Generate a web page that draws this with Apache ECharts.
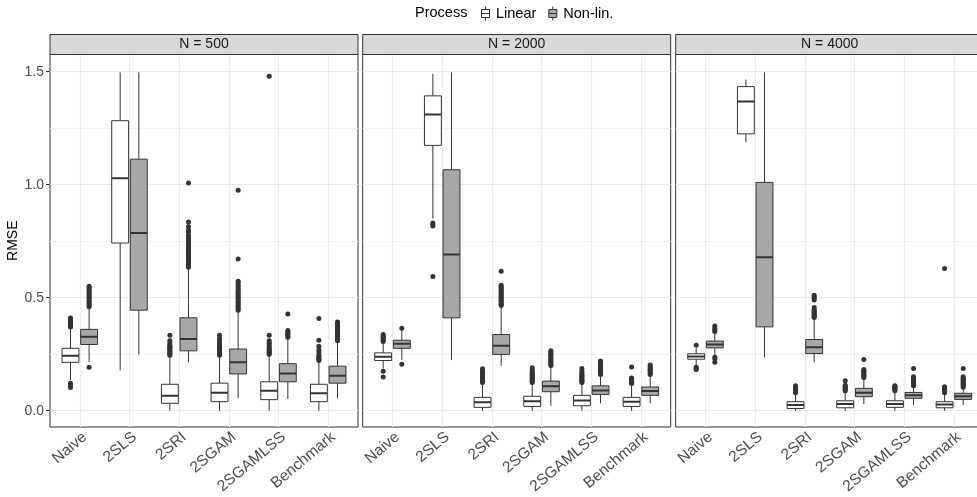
<!DOCTYPE html>
<html><head><meta charset="utf-8">
<script src="https://cdn.jsdelivr.net/npm/echarts@6/dist/echarts.min.js"></script>
<style>html,body{margin:0;padding:0;background:#fff}#c{width:977px;height:497px}</style>
</head><body><div id="c"></div>
<script>
// ---------------- data ----------------
const categories = ['Naive', '2SLS', '2SRI', '2SGAM', '2SGAMLSS', 'Benchmark'];
const panels = ['N = 500', 'N = 2000', 'N = 4000'];
const processes = ['Linear', 'Non-lin.'];
const yTicks = [0, 0.5, 1.0, 1.5];
const yMinorGrid = [0.25, 0.75, 1.25];

// box stats per category: [lower whisker, Q1, median, Q3, upper whisker]
const linear500Stats = [
  [0.136, 0.214, 0.243, 0.276, 0.365],
  [0.178, 0.742, 1.029, 1.283, 1.497],
  [0.0, 0.033, 0.066, 0.117, 0.239],
  [0.0, 0.040, 0.080, 0.122, 0.239],
  [0.0, 0.049, 0.088, 0.128, 0.245],
  [0.0, 0.040, 0.077, 0.117, 0.216]
];
const nonlin500Stats = [
  [0.216, 0.293, 0.327, 0.360, 0.452],
  [0.249, 0.445, 0.786, 1.113, 1.497],
  [0.214, 0.265, 0.317, 0.411, 0.629],
  [0.055, 0.163, 0.215, 0.273, 0.437],
  [0.052, 0.128, 0.165, 0.208, 0.320],
  [0.055, 0.122, 0.155, 0.197, 0.305]
];
const linear2000Stats = [
  [0.187, 0.222, 0.239, 0.256, 0.302],
  [0.850, 1.174, 1.310, 1.393, 1.490],
  [0.0, 0.015, 0.037, 0.059, 0.121],
  [0.0, 0.019, 0.042, 0.064, 0.121],
  [0.0, 0.022, 0.045, 0.068, 0.121],
  [0.0, 0.019, 0.040, 0.059, 0.114]
];
const nonlin2000Stats = [
  [0.224, 0.276, 0.296, 0.312, 0.364],
  [0.224, 0.411, 0.691, 1.066, 1.497],
  [0.199, 0.249, 0.287, 0.337, 0.459],
  [0.022, 0.084, 0.108, 0.131, 0.194],
  [0.033, 0.072, 0.090, 0.110, 0.155],
  [0.033, 0.068, 0.087, 0.105, 0.155]
];
const linear4000Stats = [
  [0.202, 0.228, 0.240, 0.252, 0.276],
  [1.188, 1.225, 1.368, 1.434, 1.465],
  [0.0, 0.010, 0.025, 0.040, 0.077],
  [0.0, 0.013, 0.030, 0.044, 0.084],
  [0.0, 0.015, 0.030, 0.044, 0.084],
  [0.0, 0.013, 0.028, 0.040, 0.077]
];
const nonlin4000Stats = [
  [0.246, 0.278, 0.293, 0.308, 0.342],
  [0.236, 0.371, 0.679, 1.010, 1.497],
  [0.214, 0.253, 0.281, 0.315, 0.408],
  [0.030, 0.062, 0.080, 0.099, 0.143],
  [0.025, 0.055, 0.068, 0.081, 0.106],
  [0.025, 0.050, 0.064, 0.077, 0.099]
];

// outliers per category
const linear500Out = [
  [0.370, 0.374, 0.378, 0.382, 0.386, 0.390, 0.395, 0.400, 0.405, 0.410, 0.122, 0.112, 0.103],
  [],
  [0.245, 0.250, 0.255, 0.260, 0.265, 0.270, 0.275, 0.280, 0.285, 0.290, 0.300, 0.310, 0.334],
  [0.245, 0.250, 0.255, 0.260, 0.265, 0.270, 0.275, 0.280, 0.285, 0.290, 0.300, 0.310, 0.320, 0.334],
  [0.250, 0.255, 0.260, 0.265, 0.270, 0.275, 0.285, 0.295, 0.300, 0.310, 0.334, 1.480],
  [0.222, 0.228, 0.234, 0.240, 0.246, 0.260, 0.270, 0.285, 0.312, 0.408]
];
const nonlin500Out = [
  [0.460, 0.467, 0.474, 0.481, 0.488, 0.495, 0.502, 0.509, 0.516, 0.523, 0.530, 0.537, 0.544, 0.551, 0.192],
  [],
  [0.635, 0.642, 0.649, 0.656, 0.663, 0.670, 0.677, 0.684, 0.691, 0.698, 0.705, 0.712, 0.719, 0.726, 0.733, 0.740, 0.748, 0.756, 0.765, 0.775, 0.790, 0.800, 0.815, 0.835, 1.007],
  [0.445, 0.452, 0.459, 0.466, 0.473, 0.480, 0.487, 0.494, 0.501, 0.508, 0.515, 0.522, 0.529, 0.536, 0.545, 0.555, 0.565, 0.573, 0.671, 0.975],
  [0.325, 0.331, 0.337, 0.343, 0.349, 0.355, 0.428],
  [0.310, 0.316, 0.322, 0.328, 0.334, 0.340, 0.346, 0.352, 0.358, 0.364, 0.370, 0.376, 0.382, 0.388, 0.393]
];
const linear2000Out = [
  [0.306, 0.312, 0.318, 0.324, 0.330, 0.337, 0.175, 0.149],
  [0.830, 0.822, 0.817, 0.594],
  [0.125, 0.130, 0.135, 0.140, 0.145, 0.150, 0.155, 0.160, 0.165, 0.170, 0.175, 0.180, 0.186],
  [0.125, 0.130, 0.135, 0.140, 0.145, 0.150, 0.155, 0.160, 0.166, 0.172, 0.180, 0.190],
  [0.125, 0.130, 0.135, 0.140, 0.145, 0.150, 0.155, 0.160, 0.168, 0.176, 0.187],
  [0.120, 0.125, 0.130, 0.135, 0.140, 0.145, 0.194]
];
const nonlin2000Out = [
  [0.365, 0.206],
  [],
  [0.465, 0.471, 0.477, 0.483, 0.489, 0.495, 0.501, 0.507, 0.513, 0.519, 0.525, 0.531, 0.537, 0.543, 0.549, 0.555, 0.617],
  [0.200, 0.206, 0.212, 0.218, 0.224, 0.230, 0.236, 0.242, 0.248, 0.254, 0.260, 0.265],
  [0.160, 0.166, 0.172, 0.178, 0.184, 0.190, 0.196, 0.202, 0.208, 0.214, 0.220],
  [0.160, 0.166, 0.172, 0.178, 0.184, 0.190, 0.196, 0.202]
];
const linear4000Out = [
  [0.290, 0.192, 0.186, 0.182],
  [],
  [0.080, 0.085, 0.090, 0.095, 0.100, 0.105, 0.110],
  [0.088, 0.093, 0.098, 0.103, 0.108, 0.113, 0.133],
  [0.088, 0.093, 0.098, 0.103, 0.108, 0.110],
  [0.080, 0.085, 0.090, 0.095, 0.100, 0.106, 0.629]
];
const nonlin4000Out = [
  [0.350, 0.357, 0.365, 0.375, 0.237, 0.230, 0.215],
  [],
  [0.412, 0.417, 0.422, 0.427, 0.432, 0.437, 0.442, 0.447, 0.457, 0.490, 0.497, 0.504, 0.511],
  [0.147, 0.152, 0.157, 0.162, 0.167, 0.172, 0.177, 0.182, 0.227],
  [0.110, 0.115, 0.120, 0.125, 0.130, 0.135, 0.140, 0.145, 0.150, 0.187],
  [0.104, 0.109, 0.114, 0.119, 0.124, 0.129, 0.134, 0.139, 0.144, 0.150, 0.187]
];

// ---------------- layout / style ----------------
const statsByPanel = [[linear500Stats, nonlin500Stats], [linear2000Stats, nonlin2000Stats], [linear4000Stats, nonlin4000Stats]];
const outByPanel = [[linear500Out, nonlin500Out], [linear2000Out, nonlin2000Out], [linear4000Out, nonlin4000Out]];

const FONT = '"Liberation Sans", Arial, Helvetica, sans-serif';
const PANEL_LEFT = [50, 362.7, 675.7];
const PANEL_W = 308;
const PLOT_TOP = 54.5;
const PLOT_H = 372.5;
const STRIP_H = 20;
const Y_MIN = -0.072, Y_MAX = 1.576;
const X_MIN = 0.4, X_MAX = 6.6;
const DODGE = [-0.1875, 0.1875];
const BOX_W = 0.34;
const FILLS = ['#FFFFFF', '#A8A8A8'];
const INK = '#333333';
const GRID_COLOR = '#EBEBEB';
const xTickVals = categories.map((c, k) => k + 1);

const ICON = 'path://M5,0L5,3M1,3L9,3L9,11L1,11ZM1,7L9,7M5,11L5,14';

function makeRenderItem(fill) {
  return function (params, api) {
    const x = api.value(0);
    const lo = api.coord([x, api.value(1)]);
    const q1 = api.coord([x, api.value(2)]);
    const md = api.coord([x, api.value(3)]);
    const q3 = api.coord([x, api.value(4)]);
    const hi = api.coord([x, api.value(5)]);
    const w = api.size([BOX_W, 0])[0];
    return {
      type: 'group',
      children: [
        {type: 'line', shape: {x1: lo[0], y1: lo[1], x2: q1[0], y2: q1[1]}, style: {stroke: INK, lineWidth: 1}},
        {type: 'line', shape: {x1: q3[0], y1: q3[1], x2: hi[0], y2: hi[1]}, style: {stroke: INK, lineWidth: 1}},
        {type: 'rect', shape: {x: q1[0] - w / 2, y: q3[1], width: w, height: q1[1] - q3[1]}, style: {fill: fill, stroke: INK, lineWidth: 1}},
        {type: 'line', shape: {x1: md[0] - w / 2, y1: md[1], x2: md[0] + w / 2, y2: md[1]}, style: {stroke: INK, lineWidth: 2}}
      ]
    };
  };
}

const grid = [], xAxis = [], yAxis = [], series = [], graphic = [];
panels.forEach((p, i) => {
  grid.push({left: PANEL_LEFT[i], top: PLOT_TOP, width: PANEL_W, height: PLOT_H, show: true,
    backgroundColor: '#FFFFFF', borderColor: INK, borderWidth: 1, containLabel: false, outerBoundsMode: 'none'});
  xAxis.push({type: 'value', gridIndex: i, min: X_MIN, max: X_MAX,
    axisLine: {show: false},
    axisTick: {show: true, customValues: xTickVals, length: 4, lineStyle: {color: INK}},
    axisLabel: {show: true, customValues: xTickVals, formatter: v => categories[Math.round(v) - 1] || '',
      rotate: 40, margin: 2, verticalAlign: 'top', fontSize: 15.5, color: '#4D4D4D', fontFamily: FONT},
    splitLine: {show: false}});
  yAxis.push({type: 'value', gridIndex: i, min: Y_MIN, max: Y_MAX,
    axisLine: {show: false},
    axisTick: {show: i === 0, customValues: yTicks, length: 4, lineStyle: {color: INK}},
    axisLabel: {show: i === 0, customValues: yTicks, formatter: v => v.toFixed(1), margin: 6,
      fontSize: 14, color: '#4D4D4D', fontFamily: FONT},
    splitLine: {show: false},
    name: i === 0 ? 'RMSE' : '', nameLocation: 'middle', nameGap: 18, nameRotate: 90,
    nameTextStyle: {fontSize: 14, color: '#000', fontFamily: FONT}});

  processes.forEach((proc, j) => {
    const stats = statsByPanel[i][j];
    series.push({
      type: 'custom', name: proc, xAxisIndex: i, yAxisIndex: i, z: 3, clip: true,
      itemStyle: {color: FILLS[j], borderColor: INK},
      encode: {x: 0, y: [1, 2, 3, 4, 5]},
      data: stats.map((s, k) => [k + 1 + DODGE[j]].concat(s)),
      renderItem: makeRenderItem(FILLS[j]),
      silent: true
    });
    const pts = [];
    outByPanel[i][j].forEach((list, k) => list.forEach(v => pts.push([k + 1 + DODGE[j], v])));
    const sc = {
      type: 'scatter', name: proc + ' outliers', xAxisIndex: i, yAxisIndex: i, z: 4,
      data: pts, symbol: 'circle', symbolSize: 5, itemStyle: {color: INK, opacity: 1}, silent: true
    };
    if (j === 0) {
      const ml = [];
      yTicks.forEach(v => ml.push({yAxis: v, lineStyle: {color: GRID_COLOR, width: 1.1}}));
      yMinorGrid.forEach(v => ml.push({yAxis: v, lineStyle: {color: '#F3F3F3', width: 1}}));
      xTickVals.forEach(v => ml.push({xAxis: v, lineStyle: {color: GRID_COLOR, width: 1.1}}));
      sc.markLine = {silent: true, z: 1, symbol: ['none', 'none'], label: {show: false},
        lineStyle: {type: 'solid'}, emphasis: {disabled: true}, animation: false, data: ml};
    }
    series.push(sc);
  });

  graphic.push({type: 'rect', shape: {x: PANEL_LEFT[i], y: PLOT_TOP - STRIP_H, width: PANEL_W, height: STRIP_H},
    style: {fill: '#D9D9D9', stroke: INK, lineWidth: 1}, z: 10});
  graphic.push({type: 'text', x: PANEL_LEFT[i] + PANEL_W / 2, y: PLOT_TOP - STRIP_H / 2,
    style: {text: p, align: 'center', verticalAlign: 'middle', font: '14px ' + FONT, fill: '#1A1A1A'}, z: 11});
});

const option = {
  animation: false,
  backgroundColor: '#FFFFFF',
  title: {text: 'Process', left: 415, top: 5, padding: 0,
    textStyle: {fontSize: 14.5, fontWeight: 'normal', color: '#000', fontFamily: FONT}},
  legend: {left: 481, top: 6, padding: 0, itemWidth: 11, itemHeight: 14, itemGap: 12, selectedMode: false,
    textStyle: {fontSize: 14.5, color: '#000', fontFamily: FONT},
    data: [
      {name: 'Linear', icon: ICON, itemStyle: {color: FILLS[0], borderColor: INK, borderWidth: 1}},
      {name: 'Non-lin.', icon: ICON, itemStyle: {color: FILLS[1], borderColor: INK, borderWidth: 1}}
    ]},
  grid, xAxis, yAxis, series, graphic
};

const chart = echarts.init(document.getElementById('c'), null, {renderer: 'canvas'});
chart.setOption(option);
</script>
</body></html>
